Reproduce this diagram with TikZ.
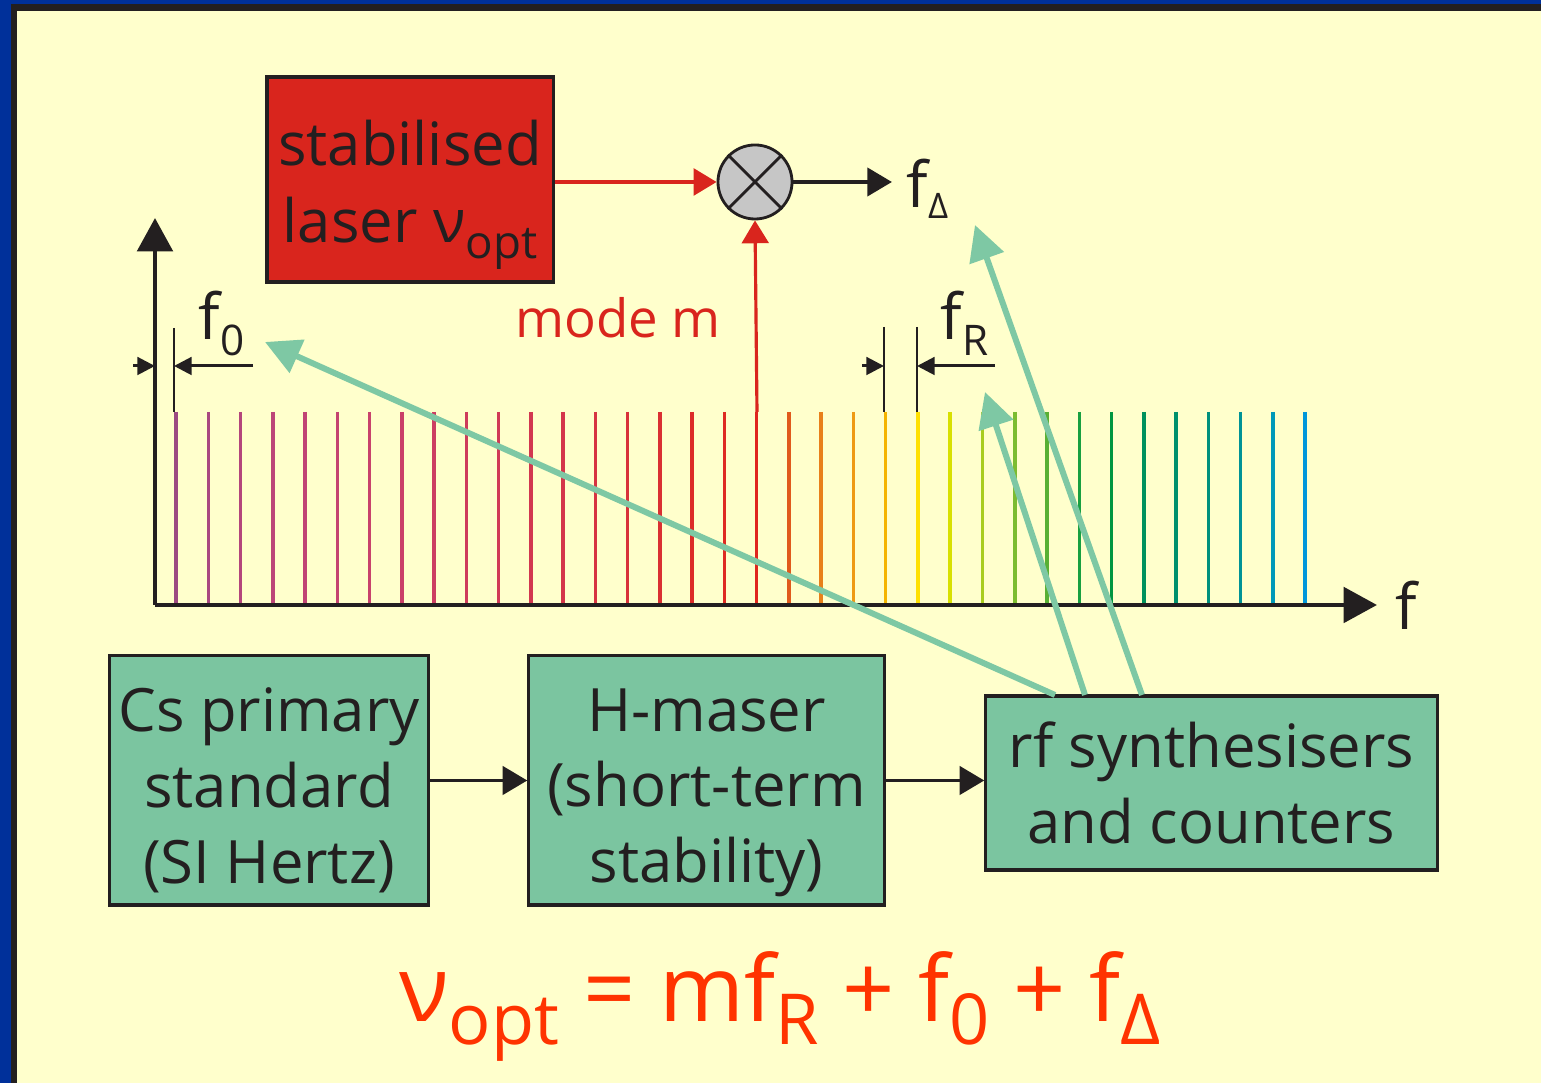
\documentclass[tikz,border=0pt]{standalone}
\usepackage{fontspec}
\setmainfont{Open Sans}
\usetikzlibrary{arrows.meta}
\definecolor{cream}{HTML}{FFFFCC}
\definecolor{frameblue}{HTML}{00309A}
\definecolor{ink}{HTML}{231F20}
\definecolor{laserred}{HTML}{D9251D}
\definecolor{boxgreen}{HTML}{7BC5A0}
\definecolor{linkgreen}{HTML}{7EC8A4}
\definecolor{formula}{HTML}{FF3300}
\newcommand{\lsub}[3]{\raisebox{-#1}{\fontsize{#2}{#2}\selectfont #3}}
\begin{document}
\begin{tikzpicture}[x=0.01cm, y=-0.01cm,
    block/.style={rectangle, draw=ink, line width=0.9pt, text=ink, align=center, inner sep=0pt, font=\fontsize{17}{21.5}\selectfont},
    label/.style={text=ink, inner sep=0pt, font=\fontsize{18}{18}\selectfont},
    axis/.style={ink, line width=1.4pt, -{Triangle[length=9.5pt, width=10pt]}},
    gap/.style={ink, line width=0.85pt, -{Triangle[length=5pt, width=5pt]}},
    link/.style={ink, line width=1.1pt, -{Triangle[length=7pt, width=8pt]}},
    redlink/.style={laserred, line width=0.9pt, -{Triangle[length=6.5pt, width=7.6pt]}},
    feed/.style={linkgreen, line width=1.7pt, -{Triangle[length=10pt, width=10pt]}}]

    % frame
    \fill [frameblue] (0,0) rectangle (1541,1083);
    \fill [ink] (11,4) rectangle (1541,1083);
    \fill [cream] (17,11) rectangle (1541,1083);
    \useasboundingbox (0,0) rectangle (1541,1083);

    % comb of modes
    \foreach \c [count=\i from 0] in {9C4A82,A84880,B4467C,BC4678,C04474,C44470,C8426C,CA4068,CC3E62,CE3C5C,D03A56,D23850,D4364A,D63442,D8323A,DA3032,DC2C28,DE2A22,E0261E,E05A1C,E8801A,EE9A14,F4B400,FFE000,D8E000,A8CC1E,7CBC30,58B034,18A040,009640,00915C,00906C,00907C,009396,0099B8,0096DA} {
        \definecolor{tooth}{HTML}{\c}
        \draw [tooth, line width=1pt] ({176+\i*32.26},412) -- ({176+\i*32.26},605);
    }

    \coordinate (O) at (155,605);
    \coordinate (ytop) at (155,218);
    \coordinate (xend) at (1377,605);
    \draw [axis] (O) -- (ytop);
    \draw [axis] (O) -- (xend);
    \node [label, anchor=base] (faxis) at (1406,630) {f};

    % offset and spacing markers
    \coordinate (t0) at (174,328);
    \coordinate (t0b) at (174,412);
    \coordinate (tR1) at (884,327);
    \coordinate (tR1b) at (884,412);
    \coordinate (tR2) at (917,327);
    \coordinate (tR2b) at (917,412);
    \draw [ink, line width=0.85pt] (t0) -- (t0b);
    \draw [ink, line width=0.85pt] (tR1) -- (tR1b);
    \draw [ink, line width=0.85pt] (tR2) -- (tR2b);
    \coordinate (a0l) at (133,366);
    \coordinate (a0r) at (253,366);
    \coordinate (aRl) at (862,366);
    \coordinate (aRr) at (995,366);
    \draw [gap] (a0l) -- (O |- a0l);
    \draw [gap] (a0r) -- (t0 |- a0r);
    \draw [gap] (aRl) -- (tR1 |- aRl);
    \draw [gap] (aRr) -- (tR2 |- aRr);
    \node [label, anchor=base west] (f0) at (198,340) {f\lsub{4.3pt}{12}{0}};
    \node [label, anchor=base west] (fR) at (940,340) {f\lsub{4.3pt}{12}{R}};

    % laser and mixer
    \node [block, fill=laserred, minimum width=2.86cm, minimum height=2.05cm, font=\fontsize{17}{22}\selectfont] (laser) at (410,179.5)
        {\rule{0pt}{21.5pt}stabilised\\laser ν\lsub{4.3pt}{13}{opt}};
    \node [circle, draw=ink, line width=0.8pt, fill=gray!45, minimum size=0.74cm, inner sep=0pt] (mix) at (755,182) {};
    \draw [ink, line width=0.8pt] (mix.45) -- (mix.225);
    \draw [ink, line width=0.8pt] (mix.135) -- (mix.315);
    \node [label, anchor=base west] (fD) at (906,208) {f\lsub{3pt}{10}{Δ}};
    \node [text=laserred, inner sep=0pt, font=\fontsize{15}{15}\selectfont] (mode) at (618,318) {mode m};
    \coordinate (modetop) at (757,412);

    \draw [redlink] (laser.east |- mix.west) -- (mix.west);
    \draw [redlink] (modetop) -- (mix.south);
    \draw [link, shorten >=4pt] (mix.east) -- (mix.east -| fD.west);

    % reference chain
    \begin{scope}[every node/.style={block, fill=boxgreen}]
        \node [minimum width=3.18cm, minimum height=2.49cm] (cs) at (269,780.5) {\rule{0pt}{18pt}Cs primary\\standard\\(SI Hertz)};
        \node [minimum width=3.55cm, minimum height=2.49cm] (maser) at (706.5,780.5) {\rule{0pt}{19pt}H-maser\\(short-term\\stability)};
        \node [minimum width=4.51cm, minimum height=1.74cm] (rf) at (1211.5,783) {rf synthesisers\\and counters};
    \end{scope}
    \draw [link] (cs.east) -- (maser.west);
    \draw [link] (maser.east) -- (maser.east -| rf.west);

    % rf feeds
    \coordinate (s0) at (1055,695);
    \coordinate (sR) at (1085,695);
    \coordinate (sD) at (1142,695);
    \coordinate (e0) at (265,342);
    \coordinate (eR) at (985,392);
    \coordinate (eD) at (975,225);
    \draw [feed] (s0) -- (e0);
    \draw [feed] (sR) -- (eR);
    \draw [feed] (sD) -- (eD);

    \node [text=formula, inner sep=0pt, font=\fontsize{26}{26}\selectfont, anchor=base] (eq) at (780,1022)
        {ν\lsub{6.3pt}{20}{opt} = mf\lsub{6.3pt}{20}{R} + f\lsub{6.3pt}{20}{0} + f\lsub{6.3pt}{20}{Δ}};
\end{tikzpicture}
\end{document}
